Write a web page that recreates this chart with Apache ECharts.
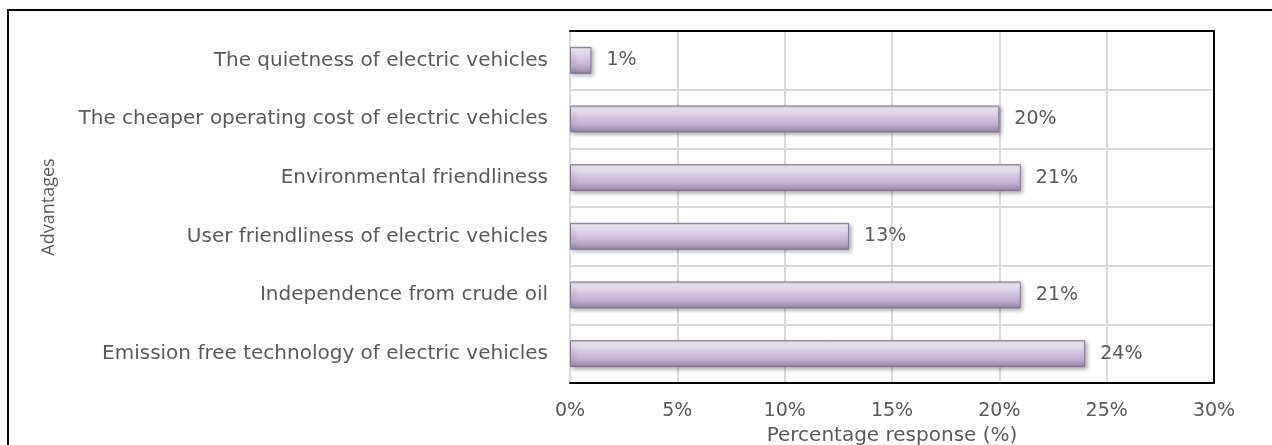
<!DOCTYPE html>
<html>
<head>
<meta charset="utf-8">
<script src="https://cdn.jsdelivr.net/npm/echarts@6/dist/echarts.min.js"></script>
<style>html,body{margin:0;padding:0;background:#fff;}#c{width:1272px;height:445px;}</style>
</head>
<body>
<div id="c"></div>
<script>
const categories = [
  "The quietness of electric vehicles",
  "The cheaper operating cost of electric vehicles",
  "Environmental friendliness",
  "User friendliness of electric vehicles",
  "Independence from crude oil",
  "Emission free technology of electric vehicles"
];
const values = [1, 20, 21, 13, 21, 24];
const xTicks = [0, 5, 10, 15, 20, 25, 30];
const xAxisTitle = "Percentage response (%)";
const yAxisTitle = "Advantages";

const FONT = "DejaVu Sans";
const TXT = "#595959";
const chart = echarts.init(document.getElementById('c'), null, {renderer: 'canvas'});
const barGrad = new echarts.graphic.LinearGradient(0, 0, 0, 1, [
  {offset: 0, color: '#b9accb'},
  {offset: 0.1, color: '#f2edf8'},
  {offset: 0.35, color: '#d8cee5'},
  {offset: 0.7, color: '#bfb2d0'},
  {offset: 0.92, color: '#9e91b2'},
  {offset: 1, color: '#7a6e8c'}
]);
chart.setOption({
  animation: false,
  graphic: [{
    type: 'rect', shape: {x: 8, y: 10, width: 1400, height: 600},
    style: {fill: 'none', stroke: '#000', lineWidth: 2}, silent: true
  }],
  grid: {left: 570, right: 58, top: 31, bottom: 62, containLabel: false, outerBoundsMode: 'none'},
  xAxis: [{
    type: 'value', min: 0, max: 30, interval: 5,
    position: 'bottom',
    name: xAxisTitle, nameLocation: 'middle', nameGap: 33,
    nameTextStyle: {fontFamily: FONT, fontSize: 20, color: TXT},
    axisLine: {show: true, onZero: false, lineStyle: {color: '#000', width: 2}},
    axisTick: {show: false},
    axisLabel: {formatter: v => xTicks.includes(v) ? v + '%' : '', fontFamily: FONT, fontSize: 19, color: TXT, margin: 19},
    splitLine: {show: true, lineStyle: {color: '#d9d9d9', width: 2}}
  }, {
    type: 'value', min: 0, max: 30, position: 'top',
    axisLine: {show: true, onZero: false, lineStyle: {color: '#000', width: 2}},
    axisTick: {show: false}, axisLabel: {show: false}, splitLine: {show: false}
  }],
  yAxis: [{
    type: 'category', data: categories, inverse: true,
    name: yAxisTitle, nameLocation: 'middle', nameGap: 512, nameRotate: 90,
    nameTextStyle: {fontFamily: "Open Sans", fontSize: 18, color: TXT},
    axisLine: {show: true, onZero: false, lineStyle: {color: '#d9d9d9', width: 2}},
    axisTick: {show: false},
    axisLabel: {fontFamily: FONT, fontSize: 20, color: TXT, margin: 22},
    splitLine: {show: true, lineStyle: {color: '#d9d9d9', width: 2}}
  }, {
    type: 'category', data: categories, inverse: true, position: 'right',
    axisLine: {show: true, onZero: false, lineStyle: {color: '#000', width: 2}},
    axisTick: {show: false}, axisLabel: {show: false}, splitLine: {show: false}
  }],
  series: [{
    type: 'bar', data: values, barWidth: 27,
    itemStyle: {color: barGrad, borderColor: '#85799a', borderWidth: 1,
      shadowColor: 'rgba(0,0,0,0.3)', shadowBlur: 4, shadowOffsetX: 2, shadowOffsetY: 2},
    label: {show: true, position: 'right', distance: 15, formatter: p => p.value + '%',
      fontFamily: FONT, fontSize: 19, color: TXT}
  }]
});
</script>
</body>
</html>
